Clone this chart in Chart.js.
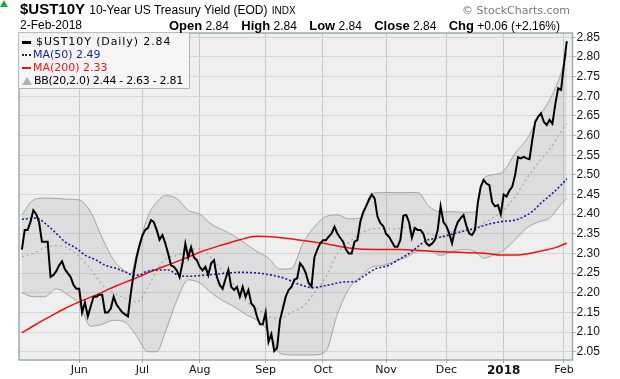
<!DOCTYPE html>
<html>
<head>
<meta charset="utf-8">
<script src="https://cdn.jsdelivr.net/npm/chart.js@4.4.1/dist/chart.umd.min.js"></script>
<style>
  html, body { margin: 0; padding: 0; background: #fff; }
  #wrap { position: relative; width: 620px; height: 379px; overflow: hidden; font-family: "Liberation Sans", Arial, sans-serif; color: #000; }
  #chart { position: absolute; left: 0; top: 0; }
  .line { position: absolute; white-space: nowrap; }
  #title { left: 20px; top: 1px; font-size: 15px; line-height: 15px; }
  #title b { font-size: 15px; }
  #title .name { font-size: 12px; }
  #title .ex { font-size: 10px; }
  #brand { right: 50px; top: 4px; font-family: "DejaVu Sans", sans-serif; font-size: 11px; line-height: 13px; color: #7a7a7a; }
  #date { left: 20px; top: 19px; font-size: 12px; line-height: 13px; }
  #ohlc { right: 60px; top: 19px; font-size: 12px; line-height: 13px; }
  #ohlc b { font-size: 13px; margin-left: 9px; }
  #ohlc b:first-child { margin-left: 0; }
  #up { left: 563px; top: 21px; width: 0; height: 0; border-left: 4px solid transparent; border-right: 4px solid transparent; border-bottom: 7px solid #22aa33; }
  #legend { position: absolute; left: 19px; top: 33px; width: 170px; height: 55px; background: rgba(246,246,246,0.9); border: 1px solid #b4b4b4; border-left: none; border-top: none; font-family: "DejaVu Sans", sans-serif; font-size: 11px; }
  #legend .row { position: absolute; left: 3px; height: 13px; line-height: 13px; white-space: nowrap; }
  #legend .ic { display: inline-block; width: 9px; margin-right: 2px; vertical-align: middle; }
</style>
</head>
<body>
<div id="wrap">
  <canvas id="chart" width="620" height="379"></canvas>
  <div class="line" id="title"><b>$UST10Y</b> <span class="name">10-Year US Treasury Yield (EOD)</span> <span class="ex">INDX</span></div>
  <div class="line" id="brand">&copy; StockCharts.com</div>
  <div class="line" id="date">2-Feb-2018</div>
  <div class="line" id="ohlc"><b>Open</b> 2.84 <b>High</b> 2.84 <b>Low</b> 2.84 <b>Close</b> 2.84 <b>Chg</b> +0.06 (+2.16%)</div>
  <div id="up"></div>
  <div id="legend">
    <div class="row" style="top:2px;color:#000;letter-spacing:0.9px"><span class="ic" style="border-top:3px solid #000;height:0;margin-right:5px"></span>$UST10Y (Daily) 2.84</div>
    <div class="row" style="top:15px;color:#1c1c96"><span class="ic" style="border-top:2px dotted #1c1c96;height:0"></span>MA(50) 2.49</div>
    <div class="row" style="top:28px;color:#ee1111"><span class="ic" style="border-top:2px solid #ee1111;height:0"></span>MA(200) 2.33</div>
    <div class="row" style="top:41px;color:#000;letter-spacing:-0.3px"><span class="ic" style="height:0;width:0;border-left:5px solid transparent;border-right:5px solid transparent;border-bottom:8px solid #b0b0b0;margin-right:2px"></span>BB(20,2.0) 2.44 - 2.63 - 2.81</div>
  </div>
</div>
<script>
// daily closes, 3-May-2017 .. 2-Feb-2018 (trading days, index 0..190)
const closes = [
  2.31, 2.36, 2.36, 2.38, 2.41, 2.40, 2.38, 2.33, 2.33, 2.33,
  2.24, 2.245, 2.255, 2.27, 2.28, 2.26, 2.25, 2.24, 2.22, 2.21,
  2.21, 2.15, 2.175, 2.14, 2.165, 2.19, 2.19, 2.195, 2.195, 2.15,
  2.15, 2.16, 2.19, 2.17, 2.16, 2.15, 2.145, 2.14, 2.20, 2.25,
  2.29, 2.32, 2.345, 2.36, 2.365, 2.385, 2.38, 2.36, 2.335, 2.347,
  2.326, 2.30, 2.27, 2.266, 2.257, 2.24, 2.275, 2.325, 2.29, 2.316,
  2.29, 2.283, 2.266, 2.257, 2.266, 2.245, 2.275, 2.283, 2.24, 2.22,
  2.21, 2.235, 2.258, 2.215, 2.207, 2.215, 2.19, 2.215, 2.19, 2.207,
  2.173, 2.165, 2.139, 2.12, 2.12, 2.15, 2.075, 2.095, 2.052, 2.06,
  2.13, 2.16, 2.19, 2.207, 2.215, 2.233, 2.237, 2.275, 2.266, 2.25,
  2.225, 2.216, 2.29, 2.31, 2.325, 2.334, 2.334, 2.343, 2.351, 2.368,
  2.351, 2.34, 2.33, 2.31, 2.30, 2.30, 2.33, 2.334, 2.38, 2.405,
  2.42, 2.436, 2.45, 2.44, 2.394, 2.377, 2.37, 2.35, 2.343, 2.33,
  2.317, 2.317, 2.335, 2.396, 2.398, 2.38, 2.34, 2.365, 2.36, 2.36,
  2.35, 2.326, 2.32, 2.325, 2.334, 2.36, 2.42, 2.38, 2.37, 2.351,
  2.326, 2.36, 2.38, 2.39, 2.398, 2.37, 2.351, 2.347, 2.36, 2.43,
  2.47, 2.487, 2.478, 2.474, 2.43, 2.42, 2.423, 2.40, 2.45, 2.445,
  2.46, 2.47, 2.50, 2.545, 2.542, 2.546, 2.542, 2.54, 2.59, 2.635,
  2.648, 2.657, 2.635, 2.627, 2.64, 2.63, 2.68, 2.72, 2.716, 2.78,
  2.84
];

// MA(50) read at these day indexes
const ma50Idx = [0, 5, 8, 12, 15, 19, 22, 26, 29, 33, 36, 39, 41, 43, 47, 51, 55, 58, 64, 70, 76, 81, 87, 92, 95, 99, 101, 107, 113, 116, 119, 123, 128, 131, 135, 138, 141, 144, 149, 153, 158, 163, 167, 172, 174, 178, 181, 185, 188, 190];
const ma50 = [2.387, 2.39, 2.377, 2.351, 2.33, 2.313, 2.296, 2.283, 2.27, 2.262, 2.253, 2.245, 2.245, 2.253, 2.258, 2.258, 2.243, 2.242, 2.245, 2.249, 2.252, 2.251, 2.245, 2.236, 2.226, 2.216, 2.213, 2.22, 2.228, 2.228, 2.241, 2.26, 2.27, 2.283, 2.30, 2.317, 2.333, 2.338, 2.347, 2.355, 2.364, 2.375, 2.381, 2.385, 2.39, 2.407, 2.428, 2.453, 2.474, 2.49];

// MA(200)
const ma200Idx = [0, 5, 10, 15, 21, 27, 33, 39, 45, 50, 56, 62, 69, 76, 82, 88, 95, 105, 114, 124, 132, 140, 148, 156, 162, 167, 172, 177, 181, 186, 190];
const ma200 = [2.098, 2.12, 2.14, 2.16, 2.18, 2.198, 2.218, 2.235, 2.254, 2.268, 2.285, 2.303, 2.32, 2.335, 2.344, 2.342, 2.336, 2.326, 2.314, 2.31, 2.31, 2.307, 2.304, 2.302, 2.30, 2.296, 2.296, 2.30, 2.306, 2.315, 2.326];

// Bollinger bands (20, 2.0)
const bbIdx = [0, 4, 8, 12, 16, 20, 24, 28, 32, 36, 38, 40, 44, 47, 50, 54, 58, 62, 66, 70, 74, 78, 82, 86, 90, 94, 98, 102, 106, 110, 114, 118, 122, 126, 130, 134, 138, 142, 146, 150, 154, 158, 161, 164, 168, 172, 176, 180, 184, 188, 190];
const bbUpper = [2.398, 2.436, 2.441, 2.44, 2.438, 2.436, 2.405, 2.34, 2.283, 2.255, 2.248, 2.30, 2.395, 2.43, 2.447, 2.44, 2.41, 2.40, 2.375, 2.36, 2.345, 2.325, 2.305, 2.288, 2.26, 2.262, 2.326, 2.368, 2.394, 2.398, 2.388, 2.39, 2.453, 2.455, 2.455, 2.455, 2.455, 2.42, 2.406, 2.406, 2.405, 2.405, 2.49, 2.50, 2.51, 2.555, 2.59, 2.645, 2.69, 2.758, 2.81];
const bbMid = [2.292, 2.30, 2.315, 2.32, 2.314, 2.292, 2.26, 2.22, 2.20, 2.186, 2.18, 2.176, 2.215, 2.255, 2.285, 2.295, 2.309, 2.312, 2.29, 2.255, 2.22, 2.18, 2.16, 2.14, 2.135, 2.15, 2.165, 2.20, 2.24, 2.30, 2.328, 2.35, 2.362, 2.364, 2.362, 2.367, 2.36, 2.35, 2.343, 2.355, 2.36, 2.362, 2.377, 2.39, 2.41, 2.445, 2.49, 2.53, 2.565, 2.61, 2.63];
const bbLower = [2.20, 2.19, 2.19, 2.21, 2.195, 2.17, 2.115, 2.12, 2.13, 2.125, 2.11, 2.09, 2.05, 2.05, 2.10, 2.18, 2.233, 2.225, 2.20, 2.18, 2.165, 2.145, 2.13, 2.10, 2.046, 2.042, 2.042, 2.042, 2.052, 2.145, 2.21, 2.24, 2.265, 2.27, 2.28, 2.29, 2.305, 2.307, 2.295, 2.305, 2.31, 2.305, 2.288, 2.295, 2.308, 2.335, 2.365, 2.38, 2.39, 2.425, 2.44];

// x axis: first trading day of each month
const monthIdx = [20, 42, 62, 85, 105, 127, 148, 168, 189];
const monthLabels = ['Jun', 'Jul', 'Aug', 'Sep', 'Oct', 'Nov', 'Dec', '2018', 'Feb'];
const yTicks = [2.05, 2.10, 2.15, 2.20, 2.25, 2.30, 2.35, 2.40, 2.45, 2.50, 2.55, 2.60, 2.65, 2.70, 2.75, 2.80, 2.85];

function pts(xs, ys) {
    return ys.map((y, i) => ({ x: xs[i], y: y }));
}

// plot background + frame
const frame = {
    id: 'frame',
    beforeDraw(chart) {
        const a = chart.chartArea, c = chart.ctx;
        c.save();
        c.fillStyle = '#efefef';
        c.fillRect(a.left, a.top, a.right - a.left, a.bottom - a.top);
        c.restore();
    },
    afterDraw(chart) {
        const a = chart.chartArea, c = chart.ctx;
        c.save();
        c.strokeStyle = '#9ab0a6';
        c.lineWidth = 1.5;
        c.strokeRect(a.left, a.top, a.right - a.left, a.bottom - a.top);
        c.restore();
    }
};

new Chart(document.getElementById('chart'), {
    type: 'line',
    data: {
        datasets: [
            { data: closes.map((v, i) => ({ x: i, y: v })), borderColor: '#000', borderWidth: 2, tension: 0 },
            { data: pts(ma50Idx, ma50), borderColor: '#1c1c96', borderWidth: 1.6, borderDash: [2, 2], cubicInterpolationMode: 'monotone' },
            { data: pts(ma200Idx, ma200), borderColor: '#ee1111', borderWidth: 1.5, cubicInterpolationMode: 'monotone' },
            { data: pts(bbIdx, bbMid), borderColor: '#a6a6a6', borderWidth: 1.2, borderDash: [2, 3], cubicInterpolationMode: 'monotone' },
            { data: pts(bbIdx, bbUpper), borderColor: '#a4a4a4', borderWidth: 1, cubicInterpolationMode: 'monotone',
              fill: '+1', backgroundColor: 'rgba(140,140,140,0.18)' },
            { data: pts(bbIdx, bbLower), borderColor: '#a4a4a4', borderWidth: 1, cubicInterpolationMode: 'monotone' }
        ]
    },
    options: {
        responsive: false,
        animation: false,
        devicePixelRatio: 1,
        layout: { padding: { left: 19, top: 33, right: 0, bottom: 0 } },
        elements: { point: { radius: 0 } },
        plugins: {
            legend: { display: false },
            tooltip: { enabled: false },
            filler: { drawTime: 'beforeDatasetsDraw' }
        },
        scales: {
            x: {
                type: 'linear',
                min: -1,
                max: 192,
                afterBuildTicks: s => { s.ticks = monthIdx.map(v => ({ value: v })); },
                afterFit: s => { s.height = 19; },
                border: { display: false },
                grid: { color: '#c8c8c8', tickLength: 3, tickColor: '#9ab0a6' },
                ticks: {
                    autoSkip: false,
                    maxRotation: 0,
                    padding: 1,
                    color: '#111',
                    font: ctx => ({
                        family: 'DejaVu Sans',
                        size: ctx.tick && ctx.tick.value === 168 ? 12 : 11,
                        weight: ctx.tick && ctx.tick.value === 168 ? 'bold' : 'normal'
                    }),
                    callback: v => monthLabels[monthIdx.indexOf(v)]
                }
            },
            y: {
                position: 'right',
                min: 2.029,
                max: 2.861,
                afterBuildTicks: s => { s.ticks = yTicks.map(v => ({ value: v })); },
                afterFit: s => { s.width = 47.5; },
                border: { display: false },
                grid: { color: '#d6d6d6', tickLength: 3, tickColor: '#9ab0a6' },
                ticks: {
                    padding: 1,
                    color: '#111',
                    font: { family: 'Liberation Sans', size: 12 },
                    callback: v => v.toFixed(2)
                }
            }
        }
    },
    plugins: [frame]
});
</script>
</body>
</html>
